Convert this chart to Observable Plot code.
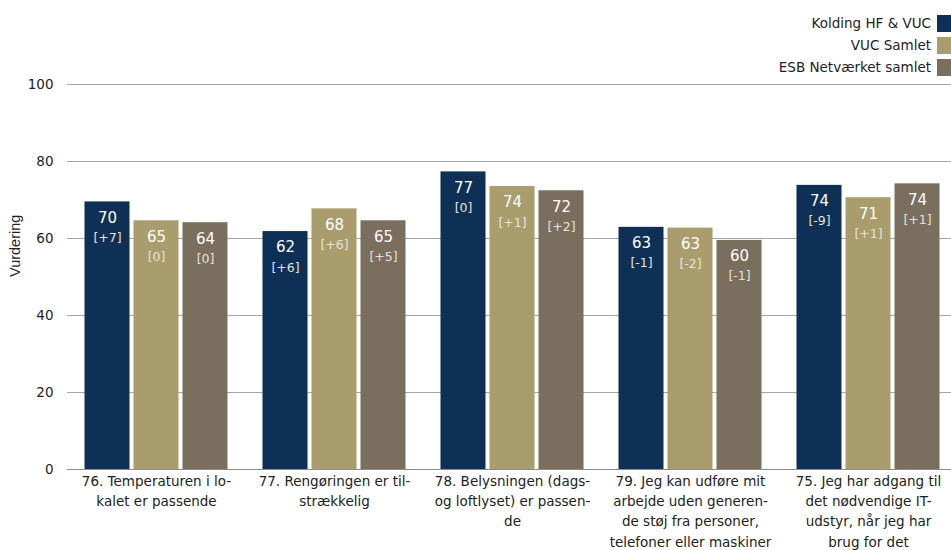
<!DOCTYPE html>
<html>
<head>
<meta charset="utf-8">
<script src="https://cdn.jsdelivr.net/npm/d3@7"></script>
<script src="https://cdn.jsdelivr.net/npm/@observablehq/plot@0.6"></script>
<style>
  html, body { margin: 0; padding: 0; background: #fff; }
  #wrap { position: relative; width: 951px; height: 550px; overflow: hidden; font-family: "DejaVu Sans", sans-serif; }
  #legend { position: absolute; right: 0; top: 12px; }
  .lg { display: flex; align-items: center; justify-content: flex-end; height: 22px; font-size: 13.5px; color: #222; }
  .lg span.sw { display: inline-block; width: 14px; height: 17px; margin-left: 6px; }
</style>
</head>
<body>
<div id="wrap"><div id="legend"></div><div id="chart"></div></div>
<script>
const groups = ["76", "77", "78", "79", "75"];
const groupLabels = [
  "76. Temperaturen i lo-\nkalet er passende",
  "77. Rengøringen er til-\nstrækkelig",
  "78. Belysningen (dags-\nog loftlyset) er passen-\nde",
  "79. Jeg kan udføre mit\narbejde uden generen-\nde støj fra personer,\ntelefoner eller maskiner",
  "75. Jeg har adgang til\ndet nødvendige IT-\nudstyr, når jeg har\nbrug for det"
];
const series = ["Kolding HF & VUC", "VUC Samlet", "ESB Netværket samlet"];
const colors = ["#0e2f56", "#a99d6d", "#7a6e5f"];
const kolding = [69.5, 61.8, 77.3, 62.9, 73.8];
const vucSamlet = [64.6, 67.7, 73.5, 62.7, 70.6];
const esb = [64.1, 64.6, 72.4, 59.5, 74.2];
const koldingChange = ["+7", "+6", "0", "-1", "-9"];
const vucChange = ["0", "+6", "+1", "-2", "+1"];
const esbChange = ["0", "+5", "+2", "-1", "+1"];
const yTicks = [0, 20, 40, 60, 80, 100];

const valueSets = [kolding, vucSamlet, esb];
const changeSets = [koldingChange, vucChange, esbChange];
const data = [];
groups.forEach((g, i) => {
  series.forEach((s, j) => {
    data.push({group: g, series: s, value: valueSets[j][i], change: changeSets[j][i]});
  });
});
const labelOf = new Map(groups.map((g, i) => [g, groupLabels[i]]));

const legend = document.getElementById("legend");
series.forEach((s, j) => {
  const row = document.createElement("div");
  row.className = "lg";
  row.innerHTML = `<span>${s}</span><span class="sw" style="background:${colors[j]}"></span>`;
  legend.appendChild(row);
});

const chart = Plot.plot({
  width: 951,
  height: 550,
  marginLeft: 67,
  marginRight: -6,
  marginTop: 84,
  marginBottom: 81,
  style: {fontFamily: "'DejaVu Sans', sans-serif", fontSize: "13.5px", color: "#222", background: "#fff", overflow: "hidden"},
  fx: {domain: groups, padding: 0, round: false, label: null},
  x: {domain: series, paddingInner: 0.0816, paddingOuter: 0.357, round: false, axis: null},
  y: {domain: [0, 100], ticks: yTicks, label: null},
  color: {domain: series, range: colors},
  marks: [
    Plot.ruleY(yTicks.filter(t => t > 0), {stroke: "#a6a6a6", strokeWidth: 1}),
    Plot.ruleY([0], {stroke: "#8c8c8c", strokeWidth: 1}),
    Plot.axisY({ticks: yTicks, tickSize: 0, tickPadding: 14, fontSize: 13.5, label: null}),
    Plot.text(["Vurdering"], {fx: () => groups[0], frameAnchor: "left", dx: -52, rotate: -90, fontSize: 14.5, fontFamily: "'Liberation Sans', Arial, sans-serif", fill: "#222"}),
    Plot.barY(data, {fx: "group", x: "series", y: "value", fill: "series"}),
    Plot.text(data, {fx: "group", x: "series", y: "value", text: d => String(Math.round(d.value)), dy: 16, fill: "white", fontSize: 15}),
    Plot.text(data, {fx: "group", x: "series", y: "value", text: d => "[" + d.change + "]", dy: 36, fill: "#e6e2d8", fontSize: 12.5}),
    Plot.axisFx({anchor: "bottom", tickSize: 0, tickPadding: 2, lineHeight: 1.5, fontSize: 13.5, tickFormat: g => labelOf.get(g), label: null})
  ]
});
document.getElementById("chart").appendChild(chart);
</script>
</body>
</html>
